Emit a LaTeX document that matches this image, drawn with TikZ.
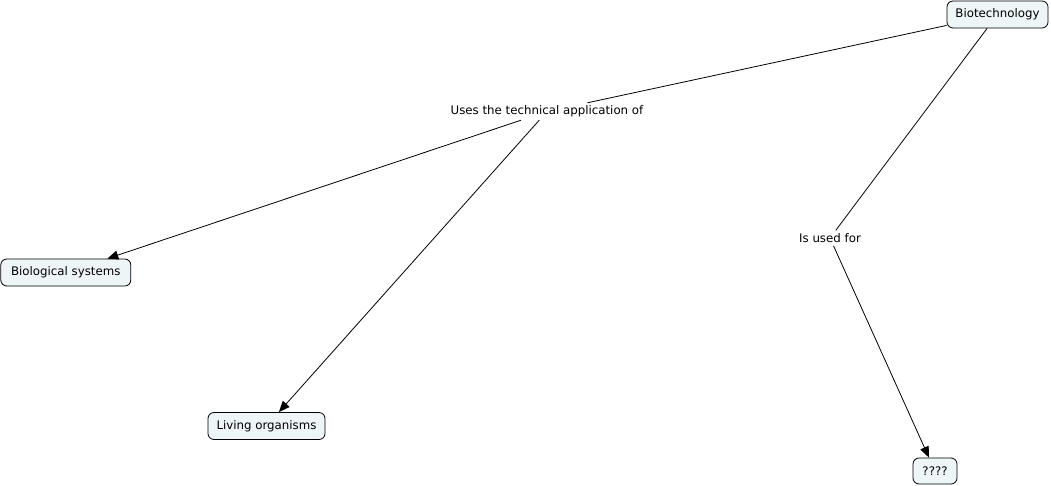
\documentclass[tikz,border=0pt]{standalone}
\usepackage{fontspec}
\setmainfont{DejaVu Sans}
\usetikzlibrary{arrows.meta}
\definecolor{conceptfill}{RGB}{238,245,246}
\tikzset{
  concept/.style={draw=black, line width=0.8pt, fill=conceptfill, rounded corners=6pt,
    inner xsep=0pt, inner ysep=0pt, minimum height=27pt,
    font=\fontsize{11.8}{14}\selectfont, text=black},
  linkword/.style={inner xsep=2pt, inner ysep=0pt, minimum height=17pt,
    font=\fontsize{11.8}{14}\selectfont, text=black},
  link/.style={draw=black, line width=0.8pt},
  linkarrow/.style={link, -{Triangle[length=11pt,width=9pt]}}
}
\begin{document}
\begin{tikzpicture}[x=1pt, y=-1pt]
  \useasboundingbox (0,0) rectangle (1051,485);
  % concepts
  \node[concept, minimum width=101pt] (bio) at (997.5,14.5) {Biotechnology};
  \node[concept, minimum width=130pt] (sys) at (65.8,272.5) {Biological systems\hspace{3pt}};
  \node[concept, minimum width=117pt] (liv) at (266.5,426) {Living organisms};
  \node[concept, minimum width=44pt, minimum height=26pt] (unk) at (935,471) {????};
  % linking phrases
  \node[linkword] (uses) at (547,111.5) {Uses the technical application of};
  \node[linkword, minimum height=15pt] (used) at (830,238) {Is used for};
  % connections
  \draw[link] (bio) -- (uses);
  \draw[linkarrow] (uses) -- (sys);
  \draw[linkarrow] (uses) -- (liv);
  \draw[link] (bio) -- (used);
  \draw[linkarrow] (used) -- (unk);
\end{tikzpicture}
\end{document}
